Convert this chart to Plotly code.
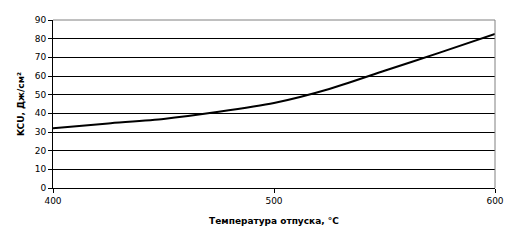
import plotly.graph_objects as go

temps = [400, 425, 450, 475, 500, 525, 550, 575, 600]
kcu = [32, 34.6, 37, 40.8, 45.5, 53, 62.8, 72.5, 82.5]
x_ticks = [400, 500, 600]
y_ticks = [0, 10, 20, 30, 40, 50, 60, 70, 80, 90]

fig = go.Figure()
fig.add_trace(go.Scatter(x=temps, y=kcu, mode="lines",
                         line=dict(color="black", width=2, shape="spline", smoothing=0.6),
                         hoverinfo="skip", showlegend=False))

font = dict(family="DejaVu Sans", size=9, color="black")
fig.update_layout(
    width=516, height=242,
    margin=dict(l=53, r=21, t=20, b=54),
    paper_bgcolor="white", plot_bgcolor="white",
    font=font,
    xaxis=dict(range=[400, 600], tickvals=x_ticks, showgrid=False, zeroline=False,
               showline=True, linecolor="black", linewidth=1,
               ticks="outside", ticklen=4, tickcolor="black",
               title=dict(text="<b>Температура отпуска, °С</b>", font=dict(family="DejaVu Sans", size=9), standoff=12)),
    yaxis=dict(range=[0, 90], tickvals=y_ticks, showgrid=True, gridcolor="black", gridwidth=1,
               zeroline=False, showline=True, linecolor="black", linewidth=1,
               ticks="outside", ticklen=4, tickcolor="black",
               title=dict(text="<b>KCU, Дж/см²</b>", font=dict(family="DejaVu Sans", size=9), standoff=8)),
    shapes=[
        dict(type="line", xref="x domain", yref="y domain", x0=0, x1=1, y0=1, y1=1,
             line=dict(color="#808080", width=1), layer="above"),
        dict(type="line", xref="x domain", yref="y domain", x0=1, x1=1, y0=0, y1=1,
             line=dict(color="#808080", width=1), layer="above"),
    ],
)
fig.write_html("out.html")
